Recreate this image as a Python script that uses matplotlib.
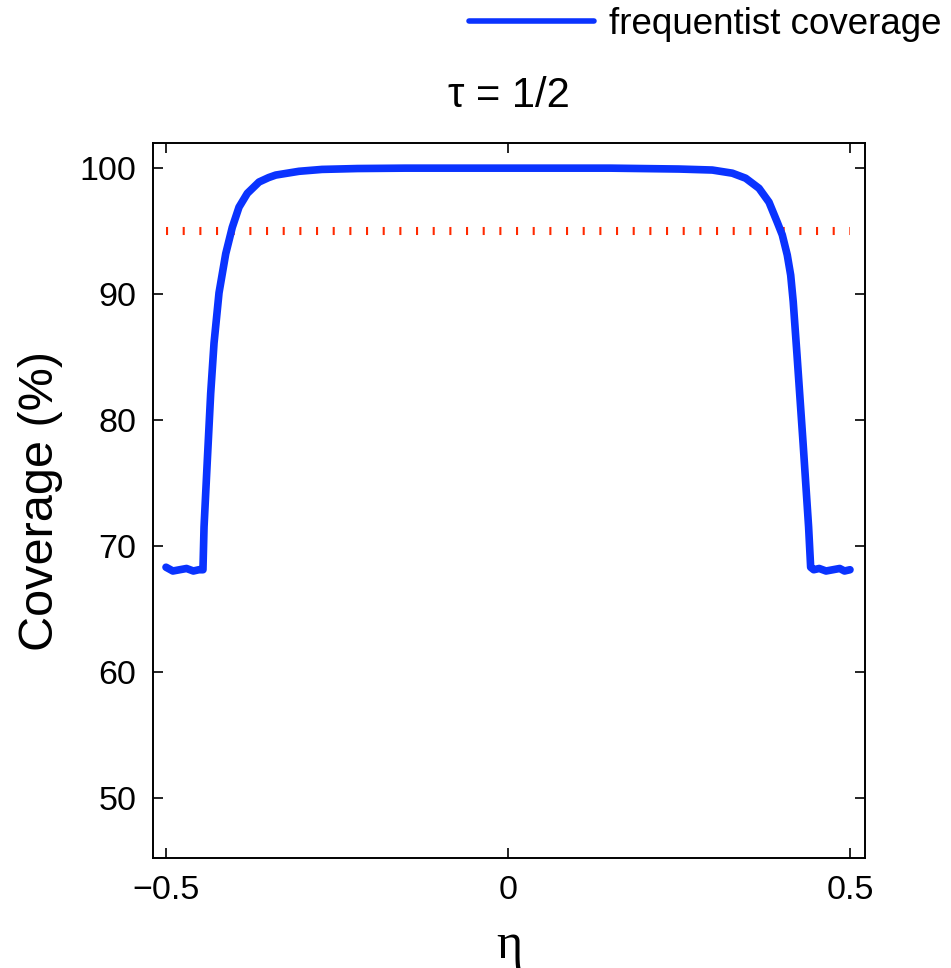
import matplotlib
matplotlib.use("Agg")
import matplotlib.pyplot as plt

plt.rcParams['font.family'] = ['Liberation Sans', 'DejaVu Sans']
plt.rcParams['lines.scale_dashes'] = False

# Frequentist coverage curve
eta = [-0.500, -0.490, -0.480, -0.470, -0.460, -0.452, -0.446,
       -0.4444, -0.4396, -0.4347, -0.4298, -0.4225, -0.4127, -0.4031,
       -0.3933, -0.3811, -0.3640, -0.3500, -0.3396, -0.3056, -0.2719,
       -0.22, -0.15, 0.0, 0.15, 0.25, 0.2987, 0.328, 0.3475, 0.367,
       0.3816, 0.3937, 0.401, 0.4083, 0.4133, 0.417, 0.4225, 0.4315,
       0.4395, 0.4425, 0.447, 0.455, 0.465, 0.475, 0.485, 0.492, 0.500]
coverage = [68.3, 68.0, 68.1, 68.2, 68.0, 68.1, 68.1,
            71.5, 76.8, 82.1, 86.1, 90.1, 93.2, 95.3,
            96.9, 98.0, 98.9, 99.25, 99.45, 99.75, 99.9,
            99.97, 100.0, 100.0, 100.0, 99.93, 99.85, 99.6, 99.2, 98.4,
            97.3, 95.7, 94.7, 93.1, 91.5, 89.4, 85.2, 78.1,
            71.5, 68.3, 68.1, 68.2, 68.0, 68.1, 68.2, 68.0, 68.1]

nominal_level = 95
nominal_range = [-0.5, 0.5]

xticks = [-0.5, 0, 0.5]
xticklabels = ['\u22120.5', '0', '0.5']
yticks = [50, 60, 70, 80, 90, 100]

fig = plt.figure(figsize=(9.51, 9.68), dpi=100)
ax = fig.add_axes([0.1609, 0.1136, 0.9096 - 0.1609, 0.8523 - 0.1136])

ax.plot(nominal_range, [nominal_level, nominal_level], color='#ff2a00',
        linewidth=5.8, dashes=(1.5, 10.5), dash_capstyle='butt', zorder=2)
line, = ax.plot(eta, coverage, color='#0a33ff', linewidth=5.5,
                solid_joinstyle='round', solid_capstyle='round', zorder=3,
                label='frequentist coverage')

ax.set_xlim(-0.519, 0.522)
ax.set_ylim(45.2, 102.0)
ax.set_xticks(xticks)
ax.set_xticklabels(xticklabels)
ax.set_yticks(yticks)
ax.tick_params(direction='in', length=7, width=1.2, labelsize=24.5,
               top=True, right=True, pad=12)
for s in ax.spines.values():
    s.set_linewidth(1.4)

ax.set_title('\u03c4 = 1/2', fontsize=30, pad=26)
ax.set_ylabel('Coverage (%)', fontsize=35, labelpad=12)
ax.set_xlabel('\u03b7', fontsize=36, family=['Liberation Serif', 'DejaVu Serif'],
              labelpad=12)

fig.legend(handles=[line], loc='upper right', bbox_to_anchor=(1.005, 1.008),
           frameon=False, fontsize=26.5, handlelength=3.4, handletextpad=0.4,
           borderaxespad=0.0)
leg = fig.legends[0]
for l in leg.get_lines():
    l.set_linewidth(4.0)

fig.savefig('out.png', dpi=100)
